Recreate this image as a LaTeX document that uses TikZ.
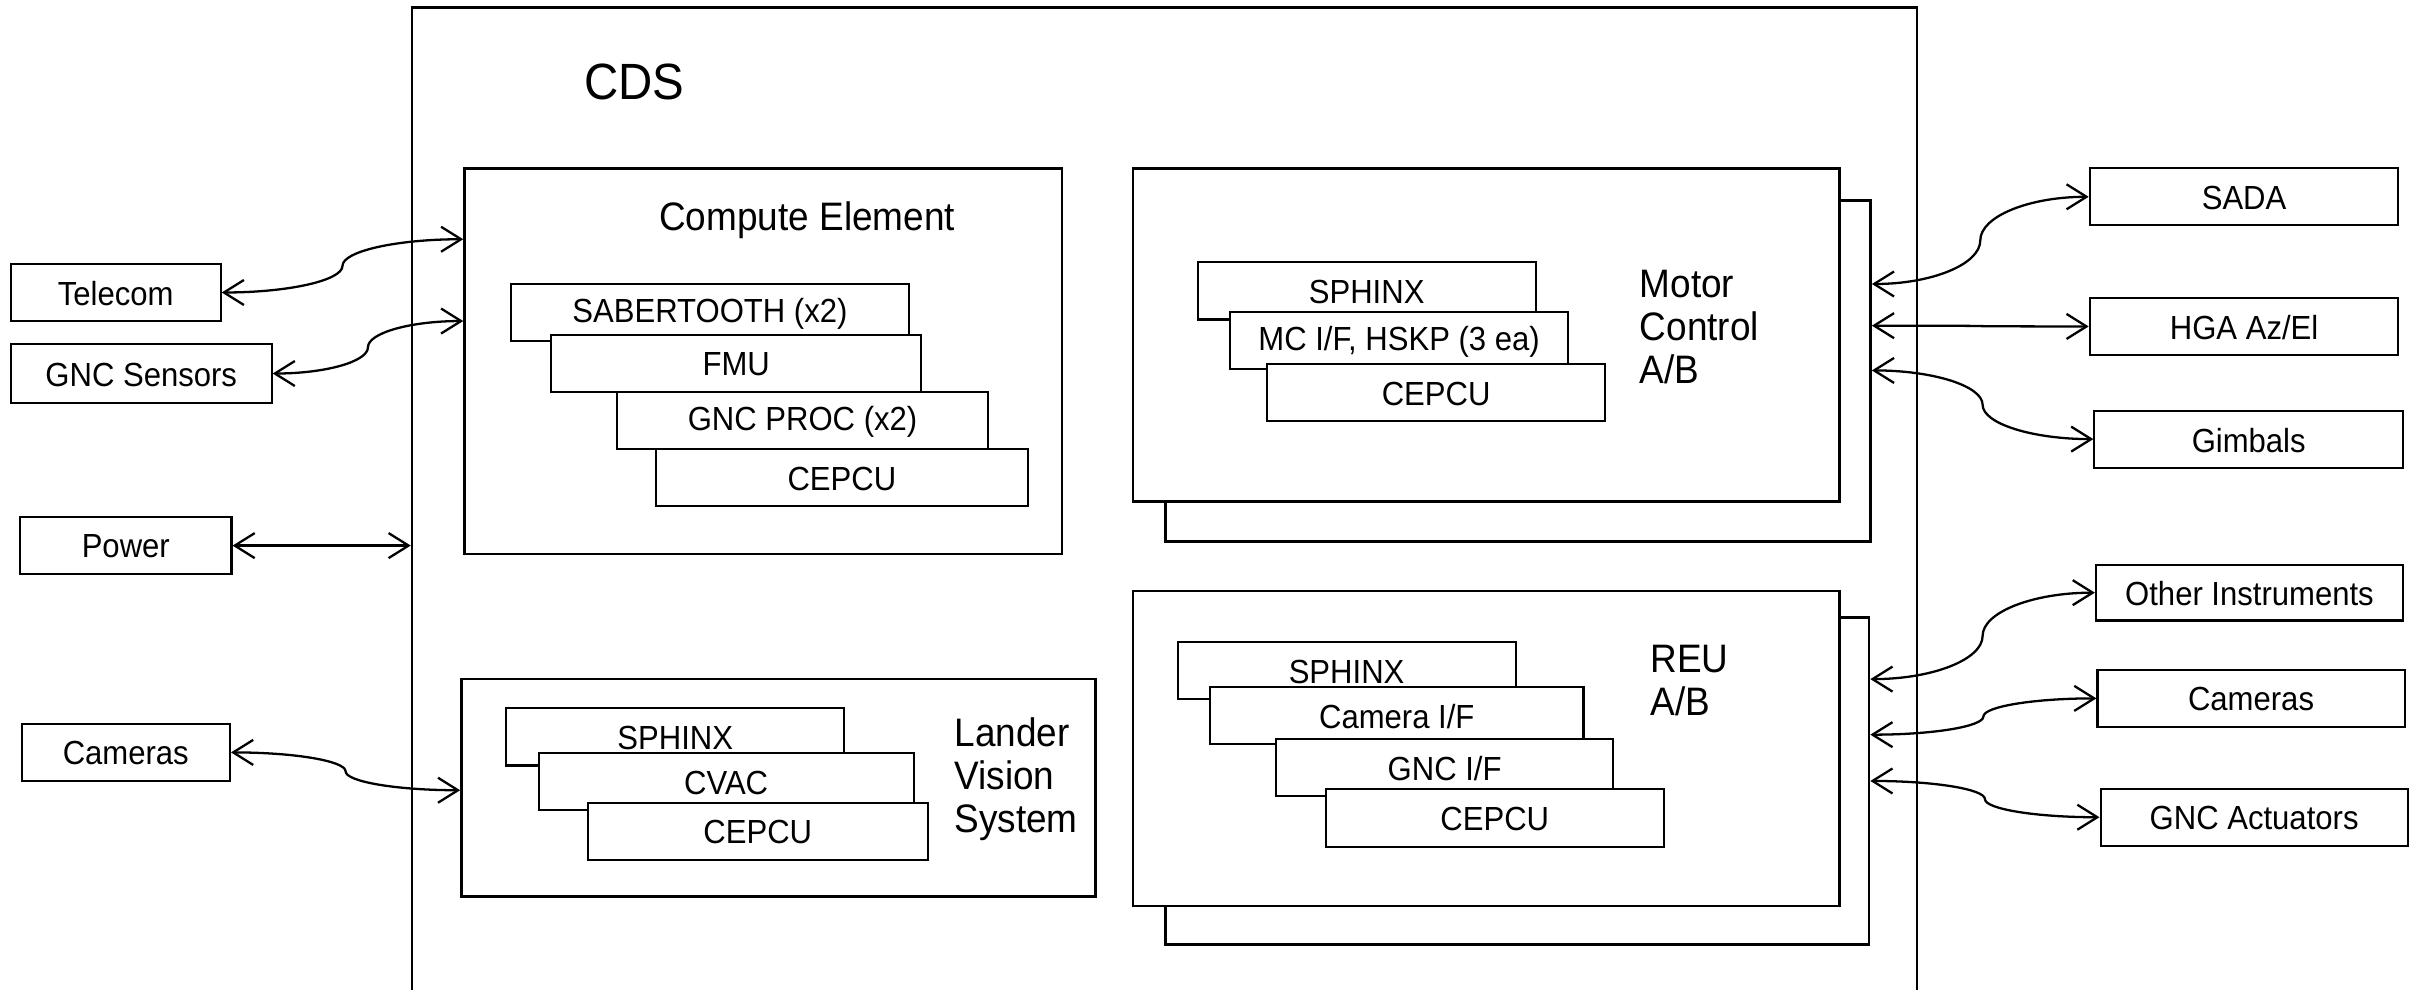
\documentclass[tikz,border=0pt]{standalone}
\usepackage{fontspec}
\setmainfont{Liberation Sans}[FakeStretch=0.93]
\usetikzlibrary{arrows.meta,fit,calc}
\tikzset{
  bigbox/.style={draw, fill=white, line width=0.75pt, inner sep=0pt},
  card/.style={draw, fill=white, line width=0.6pt, inner sep=0pt,
    label={[font=\fontsize{9.5}{11}\selectfont, inner sep=0pt, yshift=-0.3pt]center:#1}},
  title/.style={font=\fontsize{11.3}{12.3}\selectfont, align=left, inner sep=0pt},
  link/.style={line width=0.65pt, {Straight Barb[length=2mm,width=2.5mm]}-{Straight Barb[length=2mm,width=2.5mm]}},
  scurve/.style={to path={let \p1=(\tikztostart), \p2=(\tikztotarget),
      \p3=({0.5*\x1+0.5*\x2},{0.5*\y1+0.5*\y2}) in
    .. controls ({\x1+0.55*(\x3-\x1)},\y1) and (\x3,{\y3+0.55*(\y1-\y3)}) .. (\p3)
    .. controls (\x3,{\y3+0.55*(\y2-\y3)}) and ({\x2+0.55*(\x3-\x2)},\y2) .. (\p2) \tikztonodes}}
}
\begin{document}
\begin{tikzpicture}[x=0.015434cm, y=-0.015434cm]
\path[use as bounding box, clip] (0,0) rectangle (1568,641);
% CDS
\node[bigbox, fill=none, fit={(267,5) (1242,720)}] (cds) {};
\node[font=\fontsize{14.5}{16}\selectfont] (cdsl) at (411,53) {CDS};
% Compute Element
\node[bigbox, fit={(301,109) (688,359)}] (ce) {};
\node[title] (cel) at (523,143) {Compute Element};
\node[card={SABERTOOTH (x2)}, fit={(331,184) (589,221)}] (sab) {};
\node[card=FMU, fit={(357,217) (597,254)}] (fmu) {};
\node[card={GNC PROC (x2)}, fit={(400,254) (640,291)}] (gncp) {};
\node[card=CEPCU, fit={(425,291) (666,328)}] (cepcu1) {};
% Lander Vision System
\node[bigbox, fit={(299,440) (710,581)}] (lvs) {};
\node[title, anchor=west] (lvsl) at (618,505) {Lander\\Vision\\System};
\node[card=SPHINX, fit={(328,459) (547,496)}] (sph1) {};
\node[card=CVAC, fit={(349,488) (592,525)}] (cvac) {};
\node[card=CEPCU, fit={(381,520) (601,557)}] (cepcu2) {};
% Motor Control A/B
\node[bigbox, fit={(755,130) (1212,351)}] (mcb) {};
\node[bigbox, fit={(734,109) (1192,325)}] (mc) {};
\node[title, anchor=west] (mcl) at (1062,212) {Motor\\Control\\A/B};
\node[card=SPHINX, fit={(776,170) (995,207)}] (sph2) {};
\node[card={MC I/F, HSKP (3 ea)}, fit={(797,202) (1016,239)}] (mcif) {};
\node[card=CEPCU, fit={(821,236) (1040,273)}] (cepcu3) {};
% REU A/B
\node[bigbox, fit={(755,400) (1211,612)}] (reub) {};
\node[bigbox, fit={(734,383) (1192,587)}] (reu) {};
\node[title, anchor=west] (reul) at (1069,441) {REU\\A/B};
\node[card=SPHINX, fit={(763,416) (982,453)}] (sph3) {};
\node[card={Camera I/F}, fit={(784,445) (1026,482)}] (camif) {};
\node[card={GNC I/F}, fit={(827,479) (1045,516)}] (gncif) {};
\node[card=CEPCU, fit={(859,511) (1078,549)}] (cepcu4) {};
% outside units, left
\node[card=Telecom, fit={(7,171) (143,208)}] (telecom) {};
\node[card={GNC Sensors}, fit={(7,223) (176,261)}] (gncs) {};
\node[card=Power, fit={(13,335) (150,372)}] (power) {};
\node[card=Cameras, fit={(14,469) (149,506)}] (caml) {};
% outside units, right
\node[card=SADA, fit={(1354,109) (1554,146)}] (sada) {};
\node[card={HGA Az/El}, fit={(1354,193) (1554,230)}] (hga) {};
\node[card=Gimbals, fit={(1357,266) (1557,303)}] (gimb) {};
\node[card={Other Instruments}, fit={(1358,366) (1557,402)}] (oth) {};
\node[card=Cameras, fit={(1359,434) (1558,471)}] (camr) {};
\node[card={GNC Actuators}, fit={(1361,511) (1560,548)}] (gact) {};
% links
\draw[link] (telecom.east) to[scurve] (ce.west |- 0,155);
\draw[link] (gncs.east) to[scurve] (ce.west |- 0,208);
\draw[link] (power.east) -- (cds.west |- power.east);
\draw[link] (caml.east) to[scurve] (lvs.west |- 0,512);
\draw[link] (mcb.east |- 0,184) to[scurve] (sada.west);
\draw[link] (mcb.east |- 0,211) to[scurve] (hga.west);
\draw[link] (mcb.east |- 0,240) to[scurve] (gimb.west);
\draw[link] (reub.east |- 0,440) to[scurve] (oth.west);
\draw[link] (reub.east |- 0,476) to[scurve] (camr.west);
\draw[link] (reub.east |- 0,506) to[scurve] (gact.west);
\end{tikzpicture}
\end{document}
